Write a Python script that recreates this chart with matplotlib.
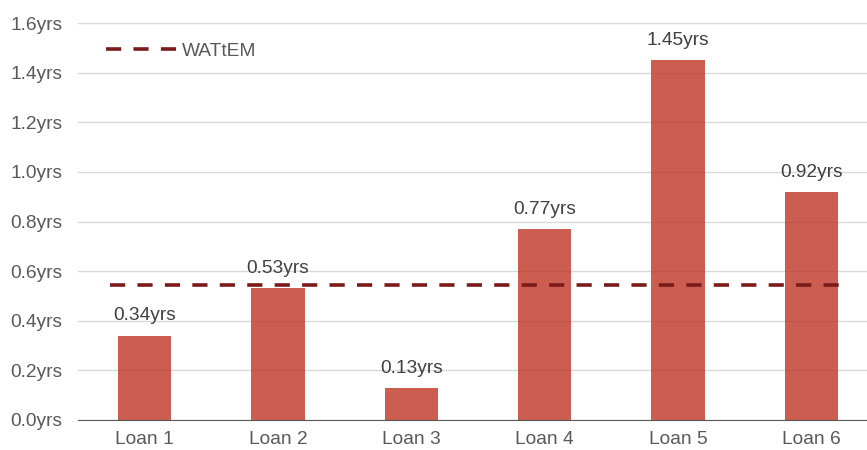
import numpy as np
import matplotlib
matplotlib.use('Agg')
import matplotlib.pyplot as plt

plt.rcParams['font.family'] = ['Liberation Sans', 'DejaVu Sans']

loans = ['Loan 1', 'Loan 2', 'Loan 3', 'Loan 4', 'Loan 5', 'Loan 6']
tem_years = [0.34, 0.53, 0.13, 0.77, 1.45, 0.92]
wattem = 0.545

text_color = '#595959'
bar_color = '#c0392b'
line_color = '#7b1a1a'

fig = plt.figure(figsize=(8.67, 4.5), dpi=100)
ax = fig.add_axes([78 / 867, 30 / 450, 800 / 867, 397 / 450])

x = np.arange(len(loans))
ax.bar(x, tem_years, width=0.4, color=bar_color, alpha=0.82, zorder=2)
for xi, v in zip(x, tem_years):
    ax.text(xi, v + 0.045, f'{v:.2f}yrs', ha='center', va='bottom',
            fontsize=13.8, color='#404040')

ax.plot([x[0] - 0.26, x[-1] + 0.26], [wattem, wattem], color=line_color,
        lw=2.6, ls=(0, (4.2, 3.4)), zorder=3, label='WATtEM')

ax.set_xlim(-0.5, len(loans) - 0.5)
ax.set_ylim(0, 1.6)
ax.set_yticks(np.arange(0, 1.61, 0.2))
ax.set_yticklabels([f'{t:.1f}yrs' for t in np.arange(0, 1.61, 0.2)])
ax.set_xticks(x)
ax.set_xticklabels(loans)
ax.tick_params(axis='both', length=0, labelsize=13.8, colors=text_color)
ax.tick_params(axis='y', pad=11)
ax.tick_params(axis='x', pad=8)
ax.grid(axis='y', color='#d9d9d9', lw=1, zorder=0)
for s in ['top', 'right', 'left']:
    ax.spines[s].set_visible(False)
ax.spines['bottom'].set_color('#595959')

leg = ax.legend(loc='upper left', bbox_to_anchor=(0.013, 0.995), frameon=False,
                fontsize=13.8, handlelength=3.75, handletextpad=0.25)
for t in leg.get_texts():
    t.set_color(text_color)

fig.savefig('out.png', dpi=100)
